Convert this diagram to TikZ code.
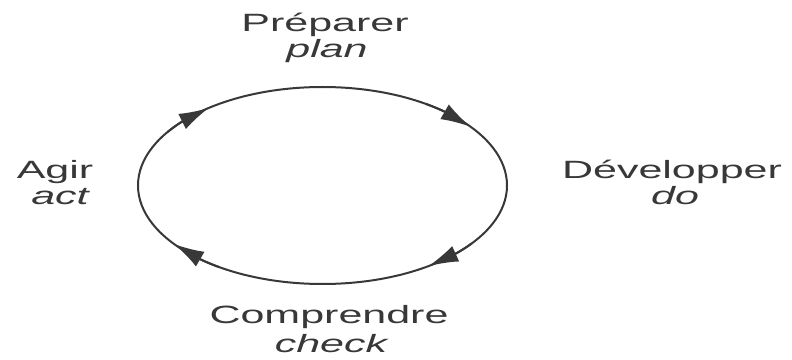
\documentclass[tikz,border=0pt]{standalone}
\usepackage{graphicx}
\usepackage{fontspec}
\setmainfont{Liberation Sans}
\usetikzlibrary{arrows.meta,bending}

\definecolor{ink}{gray}{0.22}
\newcommand{\wtxt}[1]{\scalebox{1.72}[1]{#1}}

\begin{document}
\begin{tikzpicture}[
			x=1pt, y=1pt,
			phase/.style={
					inner sep=0pt,
					anchor=base,
					text=ink,
					font=\fontsize{25}{30}\selectfont
				},
			ring/.style={
					draw=ink,
					line width=2pt
				},
			turn/.style={
					ring,
					-{Latex[length=30pt,width=17pt]}
				}
		]

		\useasboundingbox (0,0) rectangle (792,359);
		\coordinate (c) at (322.5,173.5);

		\node[phase] (prep) at (325,327) {\wtxt{Préparer}};
		\node[phase] (plan) at (327,301) {\wtxt{\itshape plan}};

		\node[phase] (dev) at (672,180) {\wtxt{Développer}};
		\node[phase] (do) at (675,154) {\wtxt{\itshape do}};

		\node[phase] (comp) at (329,36) {\wtxt{Comprendre}};
		\node[phase] (check) at (331,7) {\wtxt{\itshape check}};

		\node[phase] (agir) at (55,180) {\wtxt{Agir}};
		\node[phase] (act) at (60,154) {\wtxt{\itshape act}};

		% the cycle, then its four tips (clockwise)
		\draw[ring] (c) ellipse[x radius=184.5pt, y radius=98.5pt];
		\draw[turn] ([shift={(56:184.5pt and 98.5pt)}]c)
		arc[start angle=56, end angle=36.6, x radius=184.5pt, y radius=98.5pt];
		\draw[turn] ([shift={(-36:184.5pt and 98.5pt)}]c)
		arc[start angle=-36, end angle=-55, x radius=184.5pt, y radius=98.5pt];
		\draw[turn] ([shift={(-124:184.5pt and 98.5pt)}]c)
		arc[start angle=-124, end angle=-143.5, x radius=184.5pt, y radius=98.5pt];
		\draw[turn] ([shift={(147:184.5pt and 98.5pt)}]c)
		arc[start angle=147, end angle=128, x radius=184.5pt, y radius=98.5pt];

	\end{tikzpicture}
\end{document}
